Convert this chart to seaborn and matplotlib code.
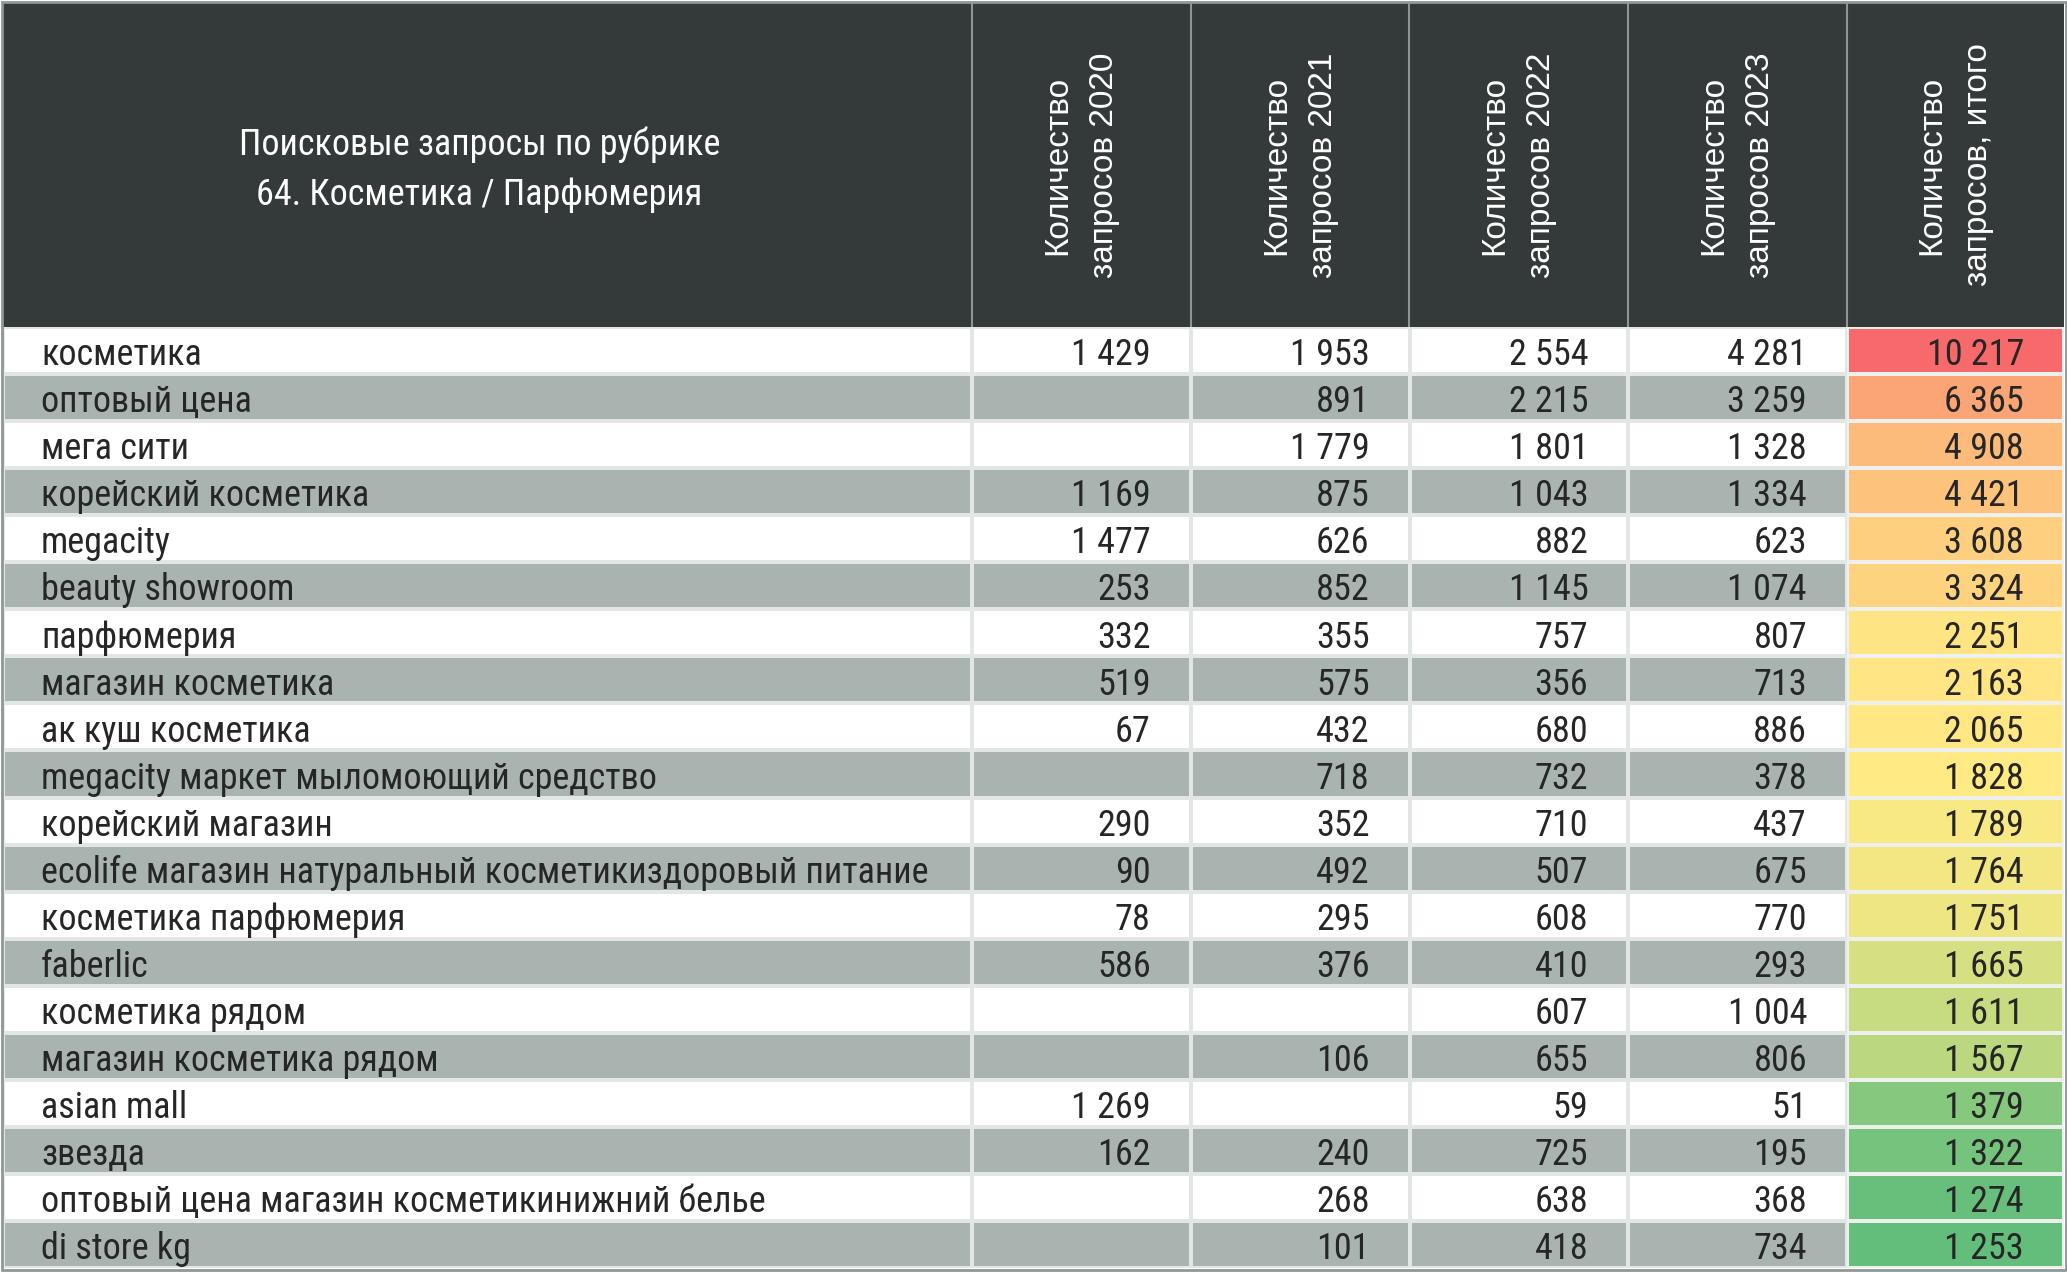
import numpy as np
import matplotlib
matplotlib.use('Agg')
import matplotlib.pyplot as plt
from matplotlib import font_manager
from matplotlib.colors import ListedColormap, LinearSegmentedColormap, TwoSlopeNorm
import seaborn as sns

title = 'Поисковые запросы по рубрике\n64. Косметика / Парфюмерия'
col_titles = ['Количество\nзапросов 2020', 'Количество\nзапросов 2021',
              'Количество\nзапросов 2022', 'Количество\nзапросов 2023',
              'Количество\nзапросов, итого']

queries = ['косметика', 'оптовый цена', 'мега сити', 'корейский косметика', 'megacity',
           'beauty showroom', 'парфюмерия', 'магазин косметика', 'ак куш косметика',
           'megacity маркет мыломоющий средство', 'корейский магазин',
           'ecolife магазин натуральный косметикиздоровый питание', 'косметика парфюмерия',
           'faberlic', 'косметика рядом', 'магазин косметика рядом', 'asian mall', 'звезда',
           'оптовый цена магазин косметикинижний белье', 'di store kg']
nan = np.nan
y2020 = [1429, nan, nan, 1169, 1477, 253, 332, 519, 67, nan, 290, 90, 78, 586, nan, nan, 1269, 162, nan, nan]
y2021 = [1953, 891, 1779, 875, 626, 852, 355, 575, 432, 718, 352, 492, 295, 376, nan, 106, nan, 240, 268, 101]
y2022 = [2554, 2215, 1801, 1043, 882, 1145, 757, 356, 680, 732, 710, 507, 608, 410, 607, 655, 59, 725, 638, 418]
y2023 = [4281, 3259, 1328, 1334, 623, 1074, 807, 713, 886, 378, 437, 675, 770, 293, 1004, 806, 51, 195, 368, 734]
total = [10217, 6365, 4908, 4421, 3608, 3324, 2251, 2163, 2065, 1828, 1789, 1764, 1751, 1665, 1611, 1567, 1379, 1322, 1274, 1253]

W, H = 2067, 1272
DARK = '#343a39'
GREY = '#a9b4b1'
SEP = '#e2e6e5'

# look for a narrow face (the source uses Arial Narrow)
names = {f.name for f in font_manager.fontManager.ttflist}
cands = ['Liberation Sans Narrow', 'Arial Narrow', 'Roboto Condensed', 'Open Sans Condensed',
         'Noto Sans Condensed', 'DejaVu Sans Condensed', 'Noto Sans Display Condensed']
found = [c for c in cands if c in names]
if not found:
    found = sorted(n for n in names if 'Condensed' in n or 'Narrow' in n)
if found:
    narrow = [found[0], 'Liberation Sans', 'DejaVu Sans']
    body_fs = 26
else:
    narrow = ['Liberation Sans', 'DejaVu Sans']
    body_fs = 23
regular = ['Liberation Sans', 'DejaVu Sans']

sns.set_style('white')
plt.rcParams['font.family'] = narrow


def rect(x0, y0, x1, y1):
    return [x0 / W, 1 - y1 / H, (x1 - x0) / W, (y1 - y0) / H]


def fmt(v):
    if np.isnan(v):
        return ''
    return '{:,}'.format(int(v)).replace(',', ' ')


edges = [3, 972, 1191, 1409, 1628, 1847, 2064]
top, hdr, bot = 3, 327, 1268
n = len(queries)
stripe = np.array([i % 2 for i in range(n)], dtype=float)

fig = plt.figure(figsize=(W / 100, H / 100), dpi=100)
fig.patch.set_facecolor('white')

# header
axh = fig.add_axes(rect(edges[0], top, edges[-1], hdr))
axh.set_xlim(edges[0], edges[-1])
axh.set_ylim(hdr, top)
axh.set_facecolor(DARK)
axh.set_xticks([])
axh.set_yticks([])
for s in axh.spines.values():
    s.set_visible(False)
for x in edges[1:-1]:
    axh.axvline(x, color='#8e9593', lw=1.5)
axh.text((edges[0] + edges[1]) / 2 - 8, (top + hdr) / 2 + 5, title, color='white',
         fontsize=body_fs, ha='center', va='center', linespacing=1.5, family=narrow)
for j, t in enumerate(col_titles):
    axh.text((edges[j + 1] + edges[j + 2]) / 2, (top + hdr) / 2, t, color='white',
             fontsize=24, rotation=90, ha='center', va='center', multialignment='center',
             linespacing=1.65, family=regular)

# query names column
axn = fig.add_axes(rect(edges[0], hdr, edges[1], bot))
sns.heatmap(stripe[:, None], cmap=ListedColormap(['white', GREY]), cbar=False,
            linewidths=1.5, linecolor=SEP, xticklabels=False, yticklabels=False, ax=axn)
for i, q in enumerate(queries):
    axn.text(38 / (edges[1] - edges[0]), i + 0.6, q, fontsize=body_fs, ha='left', va='center')

# yearly values
years = np.column_stack([y2020, y2021, y2022, y2023])
axy = fig.add_axes(rect(edges[1], hdr, edges[5], bot))
sns.heatmap(np.tile(stripe[:, None], (1, 4)), cmap=ListedColormap(['white', GREY]), cbar=False,
            linewidths=1.5, linecolor=SEP, xticklabels=False, yticklabels=False, ax=axy)
pad = 40 / 219
for i in range(n):
    for j in range(4):
        axy.text(j + 1 - pad, i + 0.6, fmt(years[i, j]), fontsize=body_fs, ha='right', va='center')

# totals with 3-colour scale
cmap = LinearSegmentedColormap.from_list('rg', ['#63be7b', '#ffeb84', '#f8696b'])
norm = TwoSlopeNorm(vmin=min(total), vcenter=np.median(total), vmax=max(total))
axt = fig.add_axes(rect(edges[5], hdr, edges[6], bot))
sns.heatmap(np.array(total, dtype=float)[:, None], cmap=cmap, norm=norm, cbar=False,
            linewidths=1.5, linecolor='#eef0ee', xticklabels=False, yticklabels=False, ax=axt)
for i, v in enumerate(total):
    axt.text(1 - 40 / 217, i + 0.6, fmt(v), fontsize=body_fs, ha='right', va='center')

fig.add_artist(plt.Rectangle((1.5 / W, 1 - 1270 / H), 2064 / W, 1268 / H,
                             transform=fig.transFigure, fill=False, ec='#8f9896', lw=2))

fig.savefig('out.png', dpi=100)
